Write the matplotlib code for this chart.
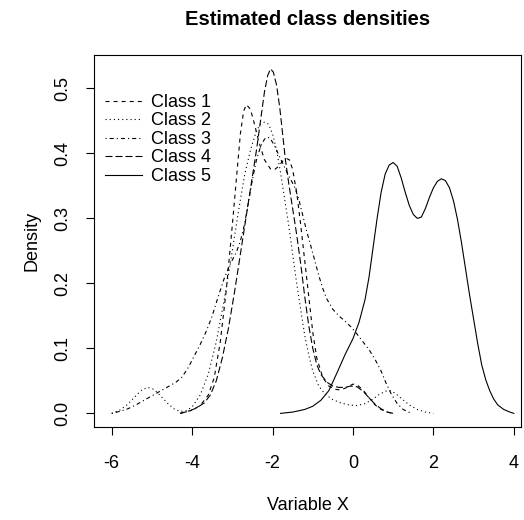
import matplotlib
matplotlib.use("Agg")
import matplotlib.pyplot as plt

plt.rcParams['font.family'] = ['Liberation Sans', 'DejaVu Sans']
plt.rcParams['lines.scale_dashes'] = False
plt.rcParams['axes.unicode_minus'] = False

# density curves (x, density)
class1_x = [-4.3, -4.0, -3.8, -3.6, -3.45, -3.3, -3.15, -3.0, -2.9, -2.8, -2.72, -2.65,
            -2.55, -2.45, -2.35, -2.2, -2.05, -1.95, -1.85, -1.75, -1.65, -1.58, -1.5,
            -1.4, -1.3, -1.2, -1.1, -1.0, -0.9, -0.75, -0.6, -0.45, -0.3, -0.15, 0.0,
            0.1, 0.25, 0.4, 0.55, 0.7, 0.85, 1.0]
class1_y = [0.0, 0.005, 0.012, 0.028, 0.055, 0.11, 0.19, 0.29, 0.36, 0.43, 0.465, 0.475,
            0.468, 0.445, 0.42, 0.39, 0.376, 0.375, 0.38, 0.388, 0.392, 0.39, 0.375,
            0.34, 0.29, 0.235, 0.18, 0.125, 0.085, 0.055, 0.042, 0.037, 0.036, 0.04, 0.045,
            0.044, 0.036, 0.024, 0.013, 0.006, 0.002, 0.0]

class2_x = [-6.0, -5.8, -5.6, -5.4, -5.25, -5.1, -4.95, -4.8, -4.6, -4.45, -4.3, -4.15,
            -4.0, -3.8, -3.6, -3.4, -3.2, -3.0, -2.85, -2.7, -2.55, -2.4, -2.3, -2.2,
            -2.1, -2.0, -1.9, -1.8, -1.7, -1.6, -1.5, -1.4, -1.3, -1.2, -1.1, -1.0,
            -0.85, -0.7, -0.5, -0.3, -0.1, 0.1, 0.3, 0.5, 0.65, 0.8, 0.92, 1.05, 1.2,
            1.4, 1.6, 1.8, 2.0]
class2_y = [0.0, 0.005, 0.014, 0.027, 0.036, 0.04, 0.037, 0.028, 0.015, 0.007, 0.003, 0.004,
            0.01, 0.028, 0.06, 0.11, 0.175, 0.25, 0.31, 0.365, 0.405, 0.435, 0.445, 0.448,
            0.445, 0.43, 0.405, 0.37, 0.33, 0.29, 0.245, 0.2, 0.16, 0.12, 0.09, 0.065,
            0.042, 0.03, 0.021, 0.016, 0.013, 0.012, 0.015, 0.022, 0.029, 0.034, 0.035, 0.031, 0.023,
            0.013, 0.006, 0.002, 0.0]

class3_x = [-6.0, -5.8, -5.6, -5.4, -5.2, -5.0, -4.8, -4.6, -4.4, -4.25, -4.1, -3.95,
            -3.8, -3.65, -3.5, -3.35, -3.2, -3.05, -2.9, -2.8, -2.7, -2.6, -2.5, -2.4,
            -2.3, -2.2, -2.12, -2.05, -1.95, -1.85, -1.75, -1.65, -1.55, -1.45, -1.35,
            -1.25, -1.15, -1.05, -0.95, -0.85, -0.75, -0.65, -0.5, -0.35, -0.2, -0.05,
            0.1, 0.25, 0.4, 0.55, 0.7, 0.82, 0.95, 1.1, 1.25, 1.45]
class3_y = [0.0, 0.003, 0.007, 0.013, 0.02, 0.027, 0.034, 0.041, 0.048, 0.056, 0.07, 0.088,
            0.106, 0.126, 0.15, 0.18, 0.208, 0.23, 0.248, 0.265, 0.29, 0.325, 0.36, 0.39,
            0.41, 0.422, 0.425, 0.422, 0.412, 0.398, 0.385, 0.372, 0.36, 0.348, 0.33,
            0.305, 0.28, 0.258, 0.235, 0.212, 0.192, 0.176, 0.16, 0.15, 0.142, 0.133,
            0.122, 0.11, 0.098, 0.083, 0.065, 0.047, 0.03, 0.015, 0.006, 0.0]

class4_x = [-4.3, -4.1, -3.9, -3.7, -3.55, -3.4, -3.25, -3.1, -2.95, -2.8, -2.65, -2.5,
            -2.4, -2.3, -2.2, -2.12, -2.05, -1.98, -1.9, -1.82, -1.75, -1.68, -1.6,
            -1.5, -1.4, -1.3, -1.2, -1.1, -1.0, -0.9, -0.8, -0.65, -0.5, -0.35, -0.2,
            -0.05, 0.1, 0.25, 0.4, 0.55, 0.7, 0.85, 1.0]
class4_y = [0.0, 0.003, 0.008, 0.016, 0.028, 0.05, 0.085, 0.13, 0.185, 0.245, 0.305, 0.365,
            0.405, 0.45, 0.495, 0.52, 0.53, 0.525, 0.505, 0.47, 0.43, 0.39, 0.355,
            0.315, 0.275, 0.23, 0.18, 0.135, 0.1, 0.075, 0.06, 0.048, 0.042, 0.04, 0.04,
            0.042, 0.041, 0.034, 0.024, 0.014, 0.007, 0.002, 0.0]

class5_x = [-1.8, -1.5, -1.2, -1.0, -0.8, -0.6, -0.4, -0.2, 0.0, 0.15, 0.3, 0.4, 0.5,
            0.6, 0.7, 0.8, 0.9, 1.0, 1.1, 1.2, 1.3, 1.4, 1.5, 1.6, 1.7, 1.8, 1.9, 2.0,
            2.1, 2.2, 2.3, 2.4, 2.5, 2.6, 2.7, 2.8, 2.9, 3.0, 3.1, 3.2, 3.3, 3.4, 3.5,
            3.6, 3.75, 3.9, 4.0]
class5_y = [0.0, 0.002, 0.006, 0.011, 0.02, 0.035, 0.062, 0.09, 0.115, 0.14, 0.175, 0.21,
            0.255, 0.30, 0.34, 0.368, 0.382, 0.386, 0.38, 0.362, 0.34, 0.32, 0.306, 0.30,
            0.302, 0.315, 0.332, 0.347, 0.357, 0.361, 0.358, 0.347, 0.327, 0.298, 0.262,
            0.222, 0.182, 0.145, 0.108, 0.075, 0.052, 0.035, 0.022, 0.013, 0.006, 0.002, 0.0]

labels = ['Class 1', 'Class 2', 'Class 3', 'Class 4', 'Class 5']
xs = [class1_x, class2_x, class3_x, class4_x, class5_x]
ys = [class1_y, class2_y, class3_y, class4_y, class5_y]

# R style line types: dashed, dotted, dotdash, longdash, solid (in points)
styles = [(0, (2.9, 2.9)), (0, (0.8, 2.2)), (0, (0.8, 2.2, 2.9, 2.2)),
          (0, (5.0, 2.2)), '-']

fig = plt.figure(figsize=(5.24, 5.20), dpi=100)
ax = fig.add_axes([0.1794, 0.1788, 0.815, 0.715])

for x, y, ls, lab in zip(xs, ys, styles, labels):
    ax.plot(x, y, color='black', lw=0.8, linestyle=ls, label=lab)

ax.set_xlim(-6.44, 4.18)
ax.set_ylim(-0.021, 0.551)
ax.set_xticks([-6, -4, -2, 0, 2, 4])
ax.set_yticks([0.0, 0.1, 0.2, 0.3, 0.4, 0.5])
ax.set_yticklabels(['0.0', '0.1', '0.2', '0.3', '0.4', '0.5'], rotation=90, va='center')
ax.tick_params(direction='out', length=5.5, width=0.8, labelsize=13)
ax.tick_params(axis='x', pad=15)
ax.tick_params(axis='y', pad=11)
for s in ax.spines.values():
    s.set_linewidth(0.8)

ax.set_xlabel('Variable X', fontsize=13, labelpad=18)
ax.set_ylabel('Density', fontsize=13, labelpad=10)
fig.suptitle('Estimated class densities', fontsize=14.5, fontweight='bold',
             x=0.586, y=0.98)

ax.legend(loc='upper left', bbox_to_anchor=(0.01, 0.915), frameon=False,
          fontsize=13, handlelength=2.0, handletextpad=0.5, labelspacing=0.08,
          borderaxespad=0.0)

fig.savefig('out.png', dpi=100)
